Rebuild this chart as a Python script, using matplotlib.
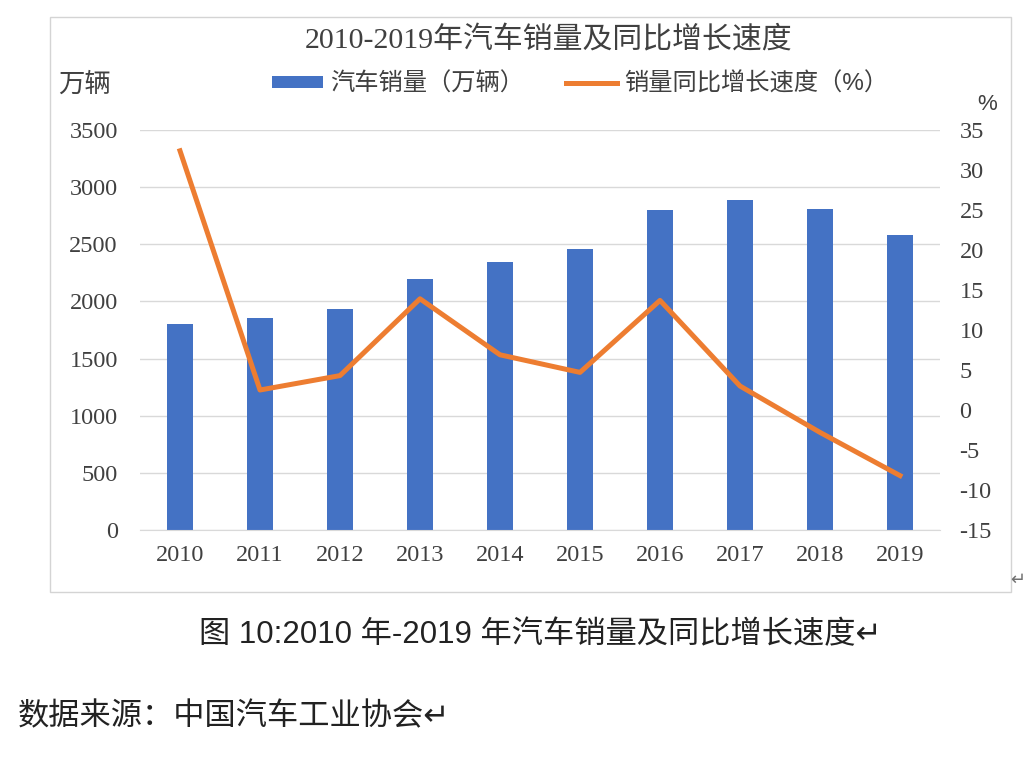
#car sales 2010-2019 chart

from matplotlib import pyplot as plt
from matplotlib.patches import Rectangle

years = ['2010', '2011', '2012', '2013', '2014', '2015', '2016', '2017', '2018', '2019']
sales = [1806, 1851, 1931, 2198, 2349, 2460, 2803, 2888, 2808, 2577]  # 万辆
growth = [32.4, 2.5, 4.3, 13.9, 6.9, 4.7, 13.7, 3.0, -2.8, -8.2]  # %
left_ticks = [0, 500, 1000, 1500, 2000, 2500, 3000, 3500]
right_ticks = [-15, -10, -5, 0, 5, 10, 15, 20, 25, 30, 35]

serif_cjk = ['Liberation Serif', 'Noto Sans CJK SC', 'DejaVu Sans']
sans_cjk = ['Liberation Sans', 'Noto Sans CJK SC', 'DejaVu Sans']
plt.rcParams['font.family'] = serif_cjk
plt.rcParams['axes.unicode_minus'] = False

W, H = 1036, 762
fig = plt.figure(figsize=(W / 100, H / 100), dpi=100)
fig.patch.set_facecolor('white')

# chart frame
fig.patches.append(Rectangle((50 / W, 1 - 592 / H), 961 / W, 575 / H, transform=fig.transFigure,
                             fill=False, edgecolor='#d4d4d4', linewidth=1.0))

ax = fig.add_axes([140 / W, 1 - 530 / H, 800 / W, 400 / H])
x = list(range(len(years)))
bars = ax.bar(x, sales, width=0.32, color='#4472C4', zorder=2, label='汽车销量（万辆）')
ax.set_xlim(-0.5, len(years) - 0.5)
ax.set_ylim(0, 3500)
ax.set_yticks(left_ticks)
ax.set_xticks(x)
ax.set_xticklabels(years)
ax.tick_params(axis='y', length=0, pad=16, labelsize=17.5, colors='#404040')
ax.tick_params(axis='x', length=0, pad=11, labelsize=17.5, colors='#404040')
ax.grid(axis='y', color='#d9d9d9', linewidth=1.0, zorder=0)
for s in ['top', 'right', 'left']:
    ax.spines[s].set_visible(False)
ax.spines['bottom'].set_color('#d9d9d9')
ax.set_facecolor('none')

ax2 = ax.twinx()
line, = ax2.plot(x, growth, color='#ED7D31', linewidth=3.6, zorder=3,
                 solid_joinstyle='round', label='销量同比增长速度（%）')
ax2.set_ylim(-15, 35)
ax2.set_yticks(right_ticks)
ax2.tick_params(axis='y', length=0, pad=14, labelsize=17.5, colors='#404040')
for s in ax2.spines.values():
    s.set_visible(False)

fig.text(549 / W, 1 - 40 / H, '2010-2019年汽车销量及同比增长速度', ha='center', va='center',
         fontsize=21.5, color='#404040')
fig.text(84 / W, 1 - 85 / H, '万辆', ha='center', va='center', fontsize=19,
         color='#404040', family=sans_cjk)
fig.text(987 / W, 1 - 104 / H, '%', ha='center', va='center', fontsize=16,
         color='#404040', family=sans_cjk)

leg = fig.legend(handles=[bars, line], loc='center', bbox_to_anchor=(580 / W, 1 - 84 / H), ncol=2,
                 frameon=False, handlelength=2.1, handleheight=0.4,
                 columnspacing=1.7, handletextpad=0.3, prop={'family': sans_cjk, 'size': 17.5})
for t in leg.get_texts():
    t.set_color('#404040')

fig.text(1018 / W, 1 - 580 / H, '↵', ha='center', va='center', fontsize=13,
         color='#707070', family=['DejaVu Sans'])

fig.text(540 / W, 1 - 635 / H, '图 10:2010 年-2019 年汽车销量及同比增长速度↵', ha='center', va='center',
         fontsize=22.5, color='#222222', family=sans_cjk)
fig.text(18 / W, 1 - 717 / H, '数据来源：中国汽车工业协会↵', ha='left', va='center',
         fontsize=22.5, color='#222222', family=sans_cjk)

plt.savefig('out.png', dpi=100, facecolor='white')
